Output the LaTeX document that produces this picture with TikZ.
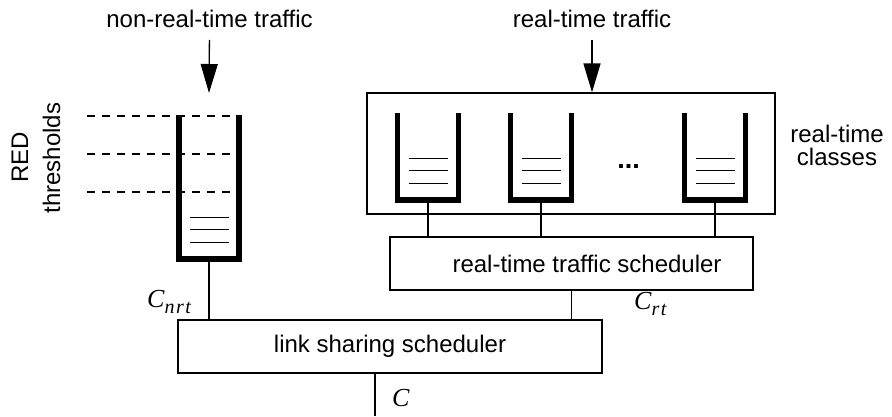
\documentclass[tikz,border=0pt]{standalone}
\usepackage{fontspec}
\setmainfont{Liberation Sans}
\newfontfamily\timesfont{Liberation Serif}
\usetikzlibrary{arrows.meta}
\newcommand{\rate}[2]{{\timesfont\itshape\fontsize{26}{26}\selectfont #1\raisebox{-6pt}{\fontsize{20}{20}\selectfont #2}}}
\begin{document}
\begin{tikzpicture}[x=1pt,y=-1pt,line cap=butt,font=\fontsize{24}{23}\selectfont]
  % Styles
  \tikzstyle{box}=[draw,line width=1.2pt,inner sep=0pt]
  \tikzstyle{queue}=[inner sep=0pt,minimum width=61pt]
  \tikzstyle{wall}=[line width=5.5pt,line join=miter]
  \tikzstyle{packet}=[line width=1.2pt]
  \tikzstyle{link}=[line width=1.2pt]
  \tikzstyle{threshold}=[line width=1.1pt,dash pattern=on 8pt off 7pt]
  \tikzstyle{traffic}=[line width=1.3pt,-{Triangle[length=29pt,width=17pt]}]

  \useasboundingbox (0,0) rectangle (892,416);

  % Traffic labels
  \node[anchor=base] (nrtlabel) at (209.5,27) {non-real-time traffic};
  \node[anchor=base] (rtlabel) at (592,27) {real-time traffic};

  % Queues
  \node[queue,minimum width=60pt,minimum height=144pt] (q0) at (209,187) {};
  \foreach \name/\x in {q1/428, q2/541, q3/715}
    \node[queue,minimum height=87pt] (\name) at (\x,156.5) {};
  \node[anchor=base,font=\fontsize{27}{27}\selectfont\bfseries] (dots) at (628.5,168) {...};

  % Boxes
  \node[box,minimum width=408pt,minimum height=121pt] (rtbox) at (571,153.5) {};
  \node[box,minimum width=363pt,minimum height=53pt] (rtsched) at (571.5,263.5) {};
  \node (rtschedtext) at ([xshift=15.5pt]rtsched.center) {real-time traffic scheduler};
  \node[box,minimum width=424pt,minimum height=53pt] (link) at (390,346.5) {link sharing scheduler};

  % Side labels
  \node[rotate=90,anchor=base] (red) at (28,157) {RED};
  \node[rotate=90,anchor=base] (thresholds) at (60,158) {thresholds};
  \node[align=center] (classes) at (837,145) {real-time\\classes};

  % RED thresholds
  \foreach \y in {116,154,192}
    \draw[threshold] (87,\y) -- (q0.east |- 0,\y);

  % Queue walls and packets
  \foreach \name in {q0,q1,q2,q3} {
    \draw[wall] (\name.north west) |- (\name.south east) -- (\name.north east);
    \foreach \h in {16.5,29.5,41.5}
      \draw[packet] ([xshift=-19.5pt,yshift=\h pt]\name.south) -- ++(39,0);
  }

  % Arrows
  \coordinate (nrtin) at (209,93);
  \draw[traffic,shorten <=9pt] (nrtlabel.south) -- (nrtin);
  \draw[traffic,shorten <=9pt] (rtlabel.south) -- (rtlabel.south |- rtbox.north);

  % Connectors
  \foreach \name in {q1,q2,q3}
    \draw[link] (\name.south) -- (\name.south |- rtsched.north);
  \draw[link] (q0.south) -- (q0.south |- link.north);
  \draw[link] (rtsched.south) -- (rtsched.south |- link.north);
  \coordinate (out) at (375,416);
  \draw[link] (link.south -| out) -- (out);

  % Rates
  \node[anchor=base west,inner sep=0pt] (cnrt) at (147,307) {\rate{C}{n\kern1.5pt r\kern1.5pt t}};
  \node[anchor=base west,inner sep=0pt] (crt) at (634,309) {\rate{C}{r\kern1.5pt t}};
  \node[anchor=base west,inner sep=0pt] (c) at (392,406) {\rate{C}{}};
\end{tikzpicture}
\end{document}
